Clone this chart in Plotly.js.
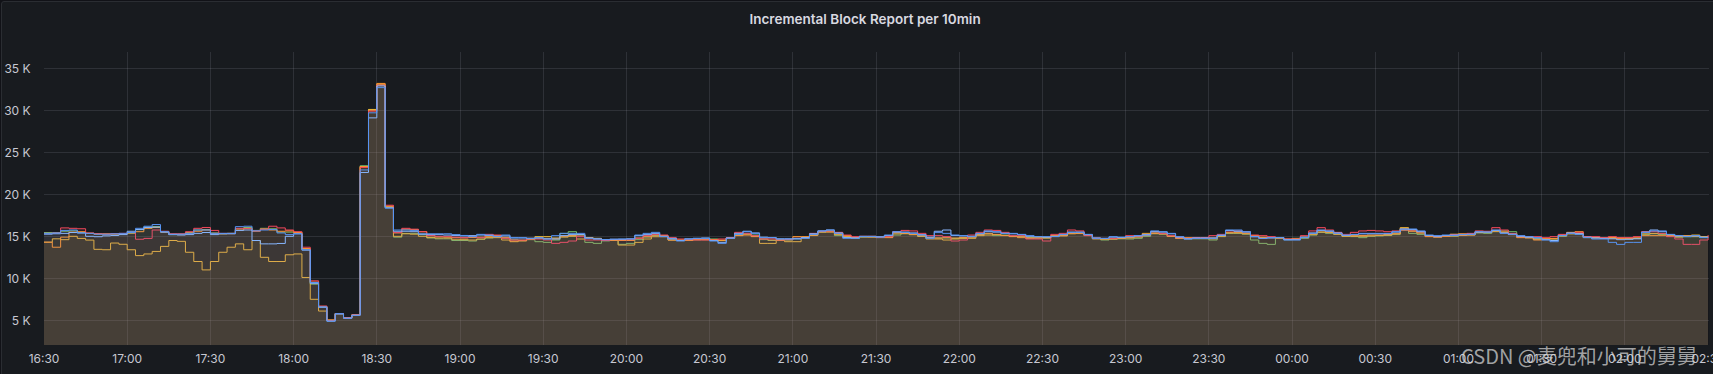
<!DOCTYPE html>
<html>
<head>
<meta charset="utf-8">
<script src="https://cdn.plot.ly/plotly-3.0.1.min.js"></script>
<style>
  html, body { margin: 0; padding: 0; background: #111217; overflow: hidden; }
  #panel { position: absolute; left: 1px; top: 1px; width: 1720px; height: 380px;
           background: #181b1f; border: 1px solid #2a2d32; border-radius: 3px; box-sizing: border-box; }
  #chart { position: absolute; left: 0; top: 0; width: 1713px; height: 374px; }
</style>
</head>
<body>
<div id="panel"></div>
<div id="chart"></div>
<script>
// Sample start and interval (3-minute resolution)
const startTime = "2023-01-01 16:30:00";
const stepMinutes = 3;

// Values in thousands (K), one per 3-minute step, 16:30 .. 02:30
const green = [15.45,15.45,15.6,15.65,15.45,15.35,15.25,15.2,15.25,15.3,15.35,15.8,16.1,16.15,15.55,15.2,15.25,15.45,15.75,15.8,
15.4,15.3,15.35,15.9,16.05,15.7,15.95,15.9,15.5,15.5,15.45,13.5,9.3,6.6,4.95,5.8,5.3,5.65,23.4,30.1,
33.0,18.5,14.9,15.35,15.35,15.2,14.8,14.7,14.7,14.5,14.5,14.44,14.64,14.8,14.9,14.8,14.6,14.55,14.6,14.36,
14.28,14.56,15.35,15.55,15.2,14.28,14.16,14.45,14.5,14.05,14.16,14.6,14.9,15.1,15.0,14.6,14.55,14.55,14.6,14.68,
14.68,14.5,14.75,15.2,15.3,15.15,14.6,14.5,14.55,14.55,14.7,14.8,15.2,15.5,15.6,15.08,15.0,14.76,14.9,14.95,
14.85,14.9,15.15,15.3,15.2,15.0,14.8,14.8,14.8,14.75,14.8,14.9,15.2,15.3,15.08,15.15,15.0,14.95,14.85,14.8,
14.8,15.0,15.1,15.4,15.4,15.1,14.7,14.56,14.65,14.7,14.68,14.76,15.0,15.3,15.25,15.0,14.75,14.7,14.7,14.7,
14.56,14.96,15.35,15.35,15.25,14.56,14.16,14.04,14.76,14.6,14.76,14.76,15.15,15.47,15.35,15.23,15.0,14.96,14.84,15.0,
15.05,15.1,15.2,15.7,15.35,15.23,15.0,14.9,15.0,15.0,15.1,15.15,15.4,15.35,15.55,15.64,15.55,14.9,14.84,14.7,
14.68,14.68,15.0,15.3,15.3,14.85,14.8,14.75,14.8,14.75,14.68,14.76,15.2,15.3,15.2,15.0,14.9,14.95,14.95,14.85,14.85];

const yellow = [14.3,14.7,14.6,15.0,14.75,14.55,13.45,13.4,14.2,14.05,13.4,12.7,12.9,13.2,13.8,14.5,14.4,13.1,12.0,11.0,
12.0,13.1,13.7,14.1,13.4,14.5,12.5,12.0,12.0,12.8,12.9,10.1,7.5,6.1,5.05,5.8,5.3,5.65,23.3,30.1,
33.1,18.5,15.0,15.3,15.25,15.0,14.85,14.8,14.8,14.65,14.6,14.56,14.68,14.84,14.84,14.56,14.36,14.44,14.65,14.96,
14.96,14.8,14.9,15.0,14.68,14.84,14.76,14.5,14.5,13.96,13.96,14.28,14.68,14.95,14.95,14.55,14.5,14.56,14.6,14.6,
14.6,14.5,14.8,15.1,15.25,15.0,14.16,14.16,14.5,14.36,14.36,14.8,15.1,15.5,15.5,15.2,15.0,14.85,14.95,14.9,
14.85,14.9,15.3,15.35,15.2,15.0,14.68,14.68,14.56,14.68,14.76,14.76,15.08,15.15,15.2,15.1,15.0,14.95,14.76,14.8,
14.84,15.0,15.05,15.3,15.35,15.1,14.75,14.65,14.7,14.75,14.8,14.9,15.35,15.4,15.3,15.0,14.8,14.75,14.75,14.75,
14.7,15.0,15.4,15.4,15.3,15.0,14.85,14.85,14.8,14.65,14.65,14.85,15.2,15.5,15.45,15.25,15.0,15.0,15.0,15.05,
15.1,15.15,15.3,16.03,15.65,15.4,15.0,14.95,15.0,15.25,15.3,15.2,15.5,15.45,15.6,15.5,15.25,14.9,14.85,14.65,
14.7,14.7,15.05,15.3,15.35,14.85,14.85,14.8,14.85,14.8,14.8,14.8,15.3,15.35,15.3,15.05,14.95,15.0,15.15,14.96,14.95];

const orange = [14.3,13.7,14.9,15.5,15.55,15.35,15.3,15.3,15.3,15.3,15.4,15.55,15.95,16.05,15.5,15.25,15.2,15.4,15.6,15.75,
15.35,15.3,15.3,15.75,15.95,15.6,15.85,15.75,15.6,15.65,15.45,13.55,9.55,6.65,5.0,5.8,5.3,5.65,23.3,30.0,
33.2,18.6,15.4,15.85,15.8,15.55,15.05,14.95,14.9,14.85,14.8,14.85,14.9,14.96,15.08,14.88,14.44,14.5,14.76,14.8,
14.75,14.7,15.0,15.1,15.15,14.8,14.7,14.55,14.55,14.5,14.5,14.8,14.96,15.15,15.08,14.56,14.56,14.5,14.6,14.6,
14.6,14.55,14.8,15.08,15.15,14.96,14.7,14.56,14.6,14.6,14.96,14.96,15.15,15.55,15.55,15.3,15.08,14.84,14.95,14.95,
14.85,14.84,15.47,15.35,15.23,15.08,14.84,14.8,14.84,14.8,14.85,14.9,15.23,15.35,15.23,15.08,14.96,14.84,14.8,14.8,
14.8,15.08,15.08,15.35,15.35,15.15,14.7,14.7,14.7,14.8,14.85,14.96,15.1,15.35,15.3,15.0,14.76,14.84,14.8,14.8,
14.8,15.08,15.47,15.47,15.35,15.08,14.9,14.85,14.8,14.65,14.7,14.9,15.3,15.64,15.5,15.3,15.08,15.08,15.1,15.15,
15.15,15.2,15.3,15.95,15.6,15.4,14.96,14.9,15.0,15.05,15.1,15.15,15.47,15.45,15.64,15.5,15.2,14.84,14.8,14.56,
14.7,14.75,15.15,15.47,15.55,14.9,14.84,14.76,14.8,14.76,14.75,14.8,15.08,15.08,15.08,15.08,14.96,15.08,15.0,14.9,14.9];

const red = [15.35,15.4,16.0,15.95,15.9,15.4,15.3,15.25,15.3,15.35,15.45,14.65,14.75,15.75,15.6,15.3,15.3,15.55,15.95,16.05,
15.7,15.35,15.35,15.95,15.9,15.65,15.85,16.2,16.0,15.75,15.55,13.7,9.7,6.7,5.0,5.8,5.3,5.65,23.2,29.9,
33.0,18.7,15.45,15.95,15.85,15.55,15.1,15.0,15.0,14.9,14.85,15.0,14.84,15.23,15.15,14.76,14.56,14.56,14.68,14.68,
14.56,14.16,14.28,14.44,14.96,14.56,14.56,14.5,14.6,14.6,14.6,14.76,15.08,15.23,15.15,14.84,14.68,14.6,14.56,14.56,
14.56,14.68,14.84,15.47,15.35,15.08,14.68,14.7,14.56,14.6,14.76,14.84,15.35,15.6,15.64,15.47,15.15,14.96,15.0,15.0,
14.9,14.96,15.55,15.7,15.64,15.35,15.08,15.08,14.96,14.44,14.56,15.15,15.47,15.75,15.7,15.47,15.08,15.08,14.68,14.68,
14.44,15.23,15.35,15.75,15.64,15.08,14.8,14.75,14.75,14.85,15.08,15.0,15.23,15.55,15.35,15.08,14.84,14.76,14.85,14.85,
15.08,15.23,15.64,15.64,15.55,15.15,15.08,14.96,14.84,14.68,14.68,15.08,15.64,16.03,15.75,15.47,15.23,15.47,15.64,15.7,
15.64,15.55,15.64,15.75,15.75,15.55,15.08,14.96,15.08,15.2,15.25,15.35,15.64,15.6,16.03,15.75,15.35,14.96,14.96,14.96,
14.84,14.96,15.23,15.35,15.47,14.96,14.96,14.84,14.96,14.84,14.84,14.96,15.55,15.55,15.35,14.96,14.68,14.04,14.04,14.56,15.15];

const lightblue = [15.25,15.3,15.35,15.45,15.4,15.0,14.95,15.05,15.1,15.2,15.6,15.8,16.05,16.1,15.5,15.2,15.15,15.2,15.35,15.45,
15.2,15.3,15.35,15.7,15.75,14.5,14.1,14.1,14.15,15.0,15.3,13.35,9.4,6.55,4.9,5.75,5.25,5.6,22.6,29.1,
32.9,18.4,15.6,15.6,15.55,15.25,15.2,15.2,15.15,15.1,15.05,15.08,15.15,15.1,15.0,15.05,14.8,14.8,14.75,14.8,
14.7,14.68,15.08,15.2,15.2,14.8,14.7,14.6,14.65,14.65,14.7,15.08,15.2,15.35,15.0,14.75,14.5,14.7,14.75,14.8,
14.5,14.28,14.8,15.35,15.6,15.4,14.9,14.85,14.7,14.7,14.75,14.85,15.3,15.64,15.75,15.4,14.85,14.8,15.0,15.0,
14.95,15.1,15.5,15.5,15.4,15.2,14.9,15.6,15.75,15.1,15.05,15.0,15.3,15.55,15.5,15.35,15.3,15.2,15.0,14.95,
14.9,15.0,15.2,15.5,15.5,15.2,14.8,14.75,14.9,14.85,14.95,15.05,15.2,15.55,15.5,15.3,14.9,14.7,14.8,14.8,
14.8,15.1,15.7,15.6,15.5,14.95,14.75,14.8,14.85,14.6,14.6,14.9,15.4,15.7,15.6,15.4,15.1,15.2,15.3,15.3,
15.3,15.3,15.5,15.85,15.8,15.55,15.1,15.0,15.1,15.15,15.2,15.25,15.5,15.5,15.7,15.4,15.25,15.0,14.9,14.8,
14.6,14.5,15.1,15.4,15.3,14.9,14.8,14.75,14.7,14.6,14.65,14.7,15.5,15.75,15.55,15.2,15.05,15.0,15.05,14.9,14.9];

const blue = [15.35,15.4,15.7,15.75,15.4,15.35,15.25,15.25,15.3,15.35,15.45,15.95,16.2,16.4,15.55,15.25,15.25,15.35,15.75,15.75,
15.35,15.35,15.3,16.15,16.2,15.65,15.75,15.8,15.4,15.2,15.3,13.4,9.5,6.6,4.9,5.8,5.25,5.6,22.9,29.7,
32.7,18.35,15.75,15.75,15.7,15.3,15.3,15.3,15.3,15.2,15.1,14.96,15.23,15.15,14.96,15.15,14.84,14.84,14.76,14.84,
14.68,15.08,15.35,15.35,15.35,14.76,14.68,14.6,14.65,14.68,14.68,15.15,15.35,15.47,14.96,14.68,14.44,14.68,14.76,14.76,
14.44,14.16,14.76,15.23,15.55,15.35,14.84,14.84,14.68,14.68,14.68,14.76,15.23,15.64,15.75,15.35,14.76,14.76,14.96,14.96,
14.9,15.15,15.55,15.47,15.35,15.15,14.76,15.47,15.35,15.15,15.08,14.96,15.35,15.64,15.55,15.35,15.35,15.23,15.08,14.96,
14.96,14.96,15.23,15.47,15.47,15.23,14.76,14.75,14.96,14.9,14.96,15.08,15.15,15.64,15.55,15.35,14.96,14.68,14.75,14.75,
14.76,15.15,15.75,15.75,15.55,14.96,14.76,14.84,14.84,14.56,14.56,14.84,15.35,15.75,15.64,15.35,15.15,15.23,15.35,15.35,
15.35,15.35,15.55,15.87,15.87,15.64,15.15,15.08,15.15,15.1,15.2,15.23,15.55,15.5,15.75,15.35,15.23,15.08,14.96,14.84,
14.56,14.36,15.08,15.35,15.23,14.84,14.68,14.68,14.28,14.04,14.28,14.28,15.47,15.64,15.64,15.23,15.08,14.96,15.08,14.84,14.9];

const seriesNames = ["green", "yellow", "orange", "red", "lightblue", "blue"];
const seriesColors = ["#73BF69", "#EAB839", "#FF9830", "#F2495C", "#8AB8FF", "#5794F2"];
const seriesFillAlpha = [0.05, 0.075, 0.07, 0.065, 0.03, 0.06];
const seriesData = [green, yellow, orange, red, lightblue, blue];

const titleText = "Incremental Block Report per 10min";
const watermark = "CSDN @麦兜和小可的舅舅";

function pad(n) { return (n < 10 ? "0" : "") + n; }
function buildTimes(n) {
  const m = startTime.match(/(\d+)-(\d+)-(\d+) (\d+):(\d+):(\d+)/);
  const base = Date.UTC(+m[1], +m[2] - 1, +m[3], +m[4], +m[5], +m[6]);
  const out = [];
  for (let i = 0; i < n; i++) {
    const d = new Date(base + i * stepMinutes * 60000);
    out.push(d.getUTCFullYear() + "-" + pad(d.getUTCMonth() + 1) + "-" + pad(d.getUTCDate()) + " " +
             pad(d.getUTCHours()) + ":" + pad(d.getUTCMinutes()) + ":00");
  }
  return out;
}

function hexA(hex, a) {
  const r = parseInt(hex.slice(1, 3), 16), g = parseInt(hex.slice(3, 5), 16), b = parseInt(hex.slice(5, 7), 16);
  return "rgba(" + r + "," + g + "," + b + "," + a + ")";
}

const traces = seriesData.map((vals, k) => ({
  type: "scatter",
  mode: "lines",
  name: seriesNames[k],
  x: buildTimes(vals.length),
  y: vals,
  line: { shape: "hv", width: 1, color: seriesColors[k] },
  fill: "tozeroy",
  fillcolor: hexA(seriesColors[k], seriesFillAlpha[k]),
  hoverinfo: "skip"
}));

const layout = {
  width: 1713, height: 374,
  paper_bgcolor: "rgba(0,0,0,0)",
  plot_bgcolor: "rgba(0,0,0,0)",
  margin: { l: 44, r: 4, t: 52, b: 29 },
  showlegend: false,
  font: { family: "Inter, Roboto, sans-serif", color: "#c7c8d2", size: 12 },
  title: {
    text: titleText,
    x: 0.505, xref: "container", xanchor: "center",
    y: 0.948, yref: "container", yanchor: "middle",
    font: { family: "Inter, Roboto, sans-serif", size: 13.5, color: "#d8d9e0", weight: 600 }
  },
  xaxis: {
    type: "date",
    range: ["2023-01-01 16:30:00", "2023-01-02 02:30:20"],
    tick0: "2023-01-01 16:30:00",
    dtick: 1800000,
    tickformat: "%H:%M",
    ticklabeloverflow: "allow",
    showgrid: true,
    gridcolor: "rgba(204,204,220,0.13)",
    gridwidth: 1,
    zeroline: false,
    showline: false,
    ticks: "outside", ticklen: 3, tickcolor: "rgba(0,0,0,0)",
    tickfont: { size: 12, color: "#c7c8d2" }
  },
  yaxis: {
    range: [2.06, 36.94],
    tick0: 0, dtick: 5,
    ticksuffix: " K",
    showgrid: true,
    gridcolor: "rgba(204,204,220,0.13)",
    gridwidth: 1,
    zeroline: false,
    showline: false,
    ticks: "outside", ticklen: 10, tickcolor: "rgba(0,0,0,0)",
    tickfont: { size: 12, color: "#c7c8d2" }
  },
  annotations: [{
    text: watermark,
    xref: "paper", yref: "paper",
    x: 1.0, y: -0.035, xanchor: "right", yanchor: "middle",
    xshift: -10,
    showarrow: false,
    font: { family: "Noto Sans CJK SC, sans-serif", size: 20, color: "rgba(215,215,215,0.72)" }
  }]
};

Plotly.newPlot("chart", traces, layout, { staticPlot: true, displayModeBar: false });
</script>
</body>
</html>
